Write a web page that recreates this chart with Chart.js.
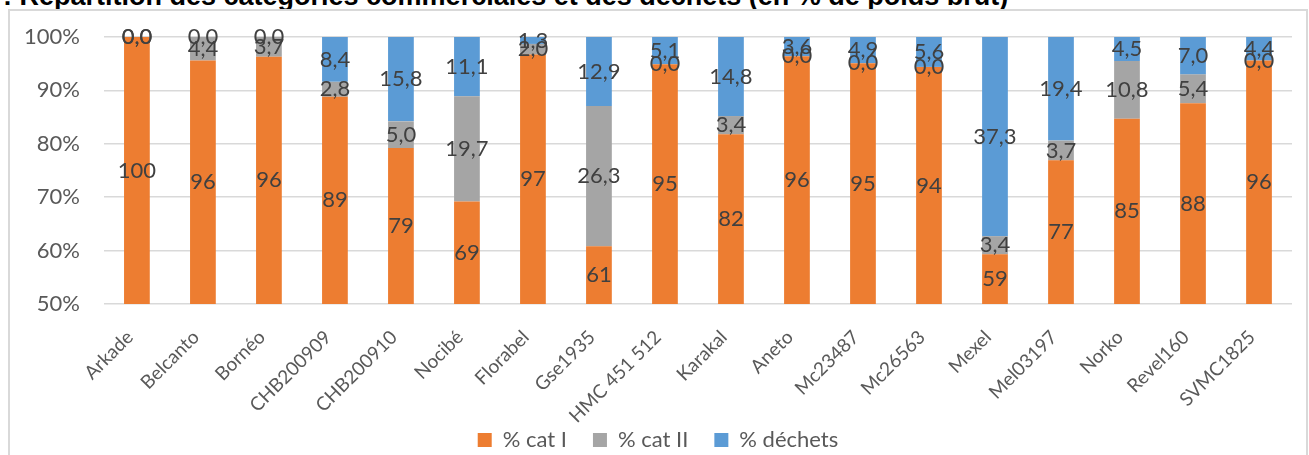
<!DOCTYPE html>
<html>
<head>
<meta charset="utf-8">
<script src="https://cdn.jsdelivr.net/npm/chart.js@4"></script>
<style>
  body { margin: 0; background: #fff; overflow: hidden; }
  #titre {
    position: absolute; left: 3px; top: -17px;
    font: bold 27px "Liberation Sans", Arial, sans-serif; line-height: 27px;
    color: #000; white-space: nowrap;
  }
  #cadre {
    position: absolute; left: 8px; top: 9px; width: 1300px; height: 448px;
    border: 2px solid #d9d9d9; box-sizing: border-box; background: #fff;
  }
</style>
</head>
<body>
<div id="titre">: Répartition des catégories commerciales et des déchets (en % de poids brut)</div>
<div id="cadre"><canvas id="graphe"></canvas></div>
<script>
const varietes = ['Arkade', 'Belcanto', 'Bornéo', 'CHB200909', 'CHB200910', 'Nocibé', 'Florabel', 'Gse1935',
  'HMC 451 512', 'Karakal', 'Aneto', 'Mc23487', 'Mc26563', 'Mexel', 'Mel03197', 'Norko', 'Revel160', 'SVMC1825']
const catI    = [100, 95.6, 96.3, 88.8, 79.2, 69.2, 96.7, 60.8, 94.9, 81.8, 96.4, 95.1, 94.4, 59.3, 76.9, 84.7, 87.6, 95.6]
const catII   = [0, 4.4, 3.7, 2.8, 5.0, 19.7, 2.0, 26.3, 0, 3.4, 0, 0, 0, 3.4, 3.7, 10.8, 5.4, 0]
const dechets = [0, 0, 0, 8.4, 15.8, 11.1, 1.3, 12.9, 5.1, 14.8, 3.6, 4.9, 5.6, 37.3, 19.4, 4.5, 7.0, 4.4]
const yTicks = [50, 60, 70, 80, 90, 100]

const police = 'Lato, "Open Sans", sans-serif'
const invisible = 'rgba(0,0,0,0)'

// etiquettes au centre de chaque segment (partie visible)
const etiquettes = {
  id: 'etiquettes',
  afterDatasetsDraw(chart) {
    const ctx = chart.ctx
    const zone = chart.chartArea
    ctx.save()
    ctx.font = '22px ' + police
    ctx.fillStyle = '#404040'
    ctx.textAlign = 'center'
    ctx.textBaseline = 'middle'
    chart.data.datasets.forEach((ds, i) => {
      chart.getDatasetMeta(i).data.forEach((bar, j) => {
        let haut = Math.max(Math.min(bar.y, bar.base), zone.top)
        let bas = Math.min(Math.max(bar.y, bar.base), zone.bottom)
        let v = ds.data[j]
        let txt = i == 0 ? String(Math.round(v)) : v.toFixed(1).replace('.', ',')
        ctx.fillText(txt, bar.x, (haut + bas) / 2)
      })
    })
    ctx.restore()
  }
}

const data = {
  labels: varietes,
  datasets: [
    { label: '% cat I', data: catI, backgroundColor: '#ED7D31' },
    { label: '% cat II', data: catII, backgroundColor: '#A5A5A5' },
    { label: '% déchets', data: dechets, backgroundColor: '#5B9BD5' }
  ]
}

const config = {
  type: 'bar',
  data: data,
  options: {
    responsive: true,
    maintainAspectRatio: false,
    animation: false,
    barPercentage: 0.39,
    categoryPercentage: 1,
    layout: { padding: { left: 14, right: 14, top: 26, bottom: -6 } },
    scales: {
      x: {
        stacked: true,
        grid: { drawOnChartArea: false, drawTicks: true, tickLength: 22, tickColor: invisible, color: invisible },
        border: { display: false },
        afterFit: axis => {
          axis.height = 99
          // les noms longs descendent sous la boite de l'axe : pas de decoupe
          axis._computeLabelArea = () => undefined
        },
        ticks: {
          autoSkip: false, minRotation: 45, maxRotation: 45, labelOffset: -7,
          color: '#595959', font: { family: police, size: 19 }, padding: 0
        }
      },
      y: {
        stacked: true,
        min: 50, max: 100,
        afterBuildTicks: axis => { axis.ticks = yTicks.map(v => ({ value: v })) },
        grid: { color: '#d9d9d9', lineWidth: 1.5, drawTicks: true, tickLength: 24, tickColor: invisible },
        border: { display: false },
        ticks: {
          color: '#595959', font: { family: police, size: 22 }, padding: 0,
          callback: v => v + '%'
        }
      }
    },
    plugins: {
      legend: {
        position: 'bottom',
        labels: {
          boxWidth: 14, boxHeight: 14, padding: 26,
          color: '#595959', font: { family: police, size: 22 }
        }
      },
      tooltip: { enabled: false }
    }
  },
  plugins: [etiquettes]
}

new Chart(document.getElementById('graphe').getContext('2d'), config)
</script>
</body>
</html>
